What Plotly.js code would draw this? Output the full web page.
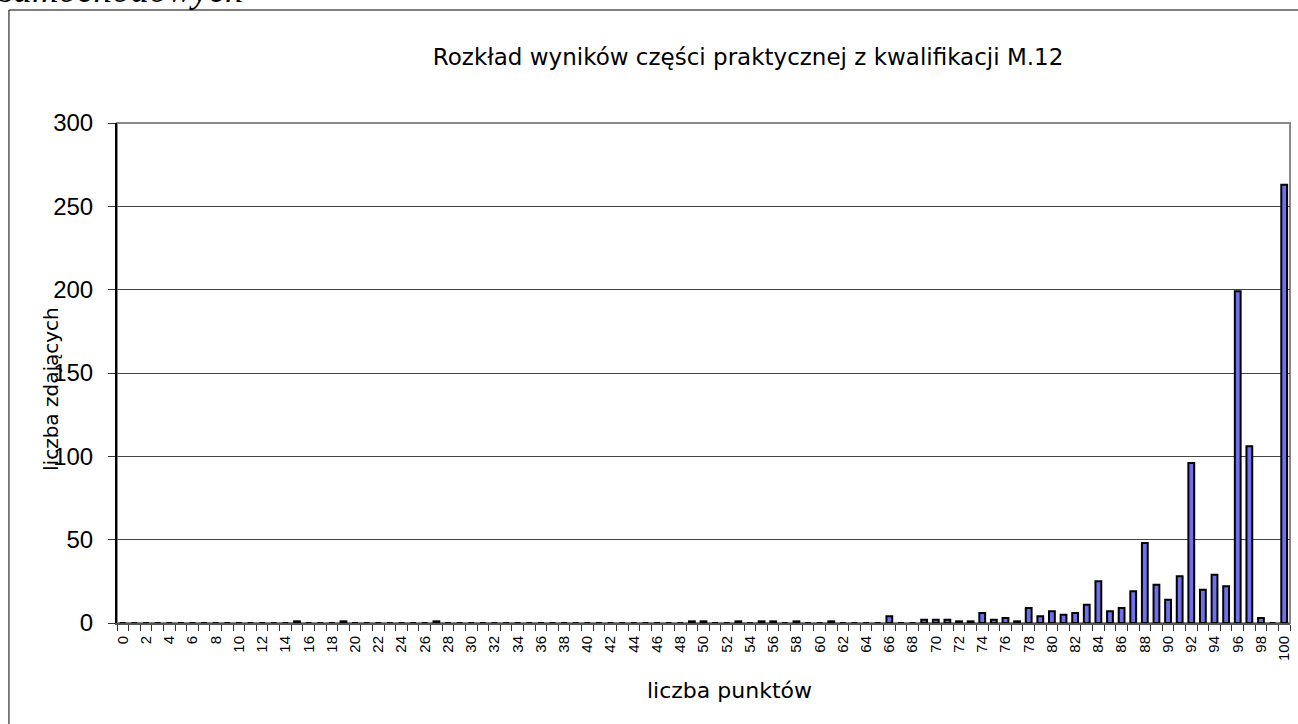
<!DOCTYPE html>
<html>
<head>
<meta charset="utf-8">
<script src="https://cdn.plot.ly/plotly-3.0.1.min.js"></script>
<style>
  body { margin: 0; background: #fff; }
  #wykres { width: 1298px; height: 724px; }
</style>
</head>
<body>
<div id="wykres"></div>
<script>
// liczba punktow (0-100)
var punkty = [
  0, 1, 2, 3, 4, 5, 6, 7, 8, 9,
  10, 11, 12, 13, 14, 15, 16, 17, 18, 19,
  20, 21, 22, 23, 24, 25, 26, 27, 28, 29,
  30, 31, 32, 33, 34, 35, 36, 37, 38, 39,
  40, 41, 42, 43, 44, 45, 46, 47, 48, 49,
  50, 51, 52, 53, 54, 55, 56, 57, 58, 59,
  60, 61, 62, 63, 64, 65, 66, 67, 68, 69,
  70, 71, 72, 73, 74, 75, 76, 77, 78, 79,
  80, 81, 82, 83, 84, 85, 86, 87, 88, 89,
  90, 91, 92, 93, 94, 95, 96, 97, 98, 99,
  100
];

// liczba zdajacych
var zdajacy = [
  0, 0, 0, 0, 0, 0, 0, 0, 0, 0,
  0, 0, 0, 0, 0, 1, 0, 0, 0, 1,
  0, 0, 0, 0, 0, 0, 0, 1, 0, 0,
  0, 0, 0, 0, 0, 0, 0, 0, 0, 0,
  0, 0, 0, 0, 0, 0, 0, 0, 0, 1,
  1, 0, 0, 1, 0, 1, 1, 0, 1, 0,
  0, 1, 0, 0, 0, 0, 4, 0, 0, 2,
  2, 2, 1, 1, 6, 2, 3, 1, 9, 4,
  7, 5, 6, 11, 25, 7, 9, 19, 48, 23,
  14, 28, 96, 20, 29, 22, 199, 106, 3, 0,
  263
];

var etykietyX = [
  0, 2, 4, 6, 8, 10, 12, 14, 16, 18,
  20, 22, 24, 26, 28, 30, 32, 34, 36, 38,
  40, 42, 44, 46, 48, 50, 52, 54, 56, 58,
  60, 62, 64, 66, 68, 70, 72, 74, 76, 78,
  80, 82, 84, 86, 88, 90, 92, 94, 96, 98,
  100
];

var etykietyY = [0, 50, 100, 150, 200, 250, 300];

var slupki = {
  x: punkty,
  y: zdajacy,
  type: 'bar',
  marker: {
    color: '#7070ee',
    line: { color: '#000000', width: 2 }
  },
  hoverinfo: 'x+y'
};

var czcionka = 'Liberation Sans, Arial, sans-serif';
var szeroka = 'DejaVu Sans, Verdana, sans-serif';

var layout = {
  width: 1298,
  height: 724,
  margin: { l: 117, r: 8, t: 123, b: 101 },
  paper_bgcolor: '#ffffff',
  plot_bgcolor: '#ffffff',
  showlegend: false,
  bargap: 0.5,
  font: { family: czcionka, color: '#000000' },
  title: {
    text: 'Rozkład wyników części praktycznej z kwalifikacji M.12',
    font: { family: szeroka, size: 23, color: '#000000' },
    x: 0.538, xref: 'paper', xanchor: 'center',
    y: 0.921, yref: 'container', yanchor: 'middle'
  },
  xaxis: {
    range: [-0.5, 100.5],
    tickmode: 'array',
    tickvals: etykietyX,
    ticktext: etykietyX.map(String),
    tickangle: -90,
    tickfont: { family: czcionka, size: 15, color: '#000000' },
    ticklabelstandoff: 5,
    ticks: '',
    showgrid: false,
    zeroline: false,
    showline: true,
    linecolor: '#555555',
    linewidth: 2,
    minor: {
      tick0: 0.5,
      dtick: 1,
      ticks: 'outside',
      ticklen: 6,
      tickwidth: 1,
      tickcolor: '#333333',
      showgrid: false
    }
  },
  yaxis: {
    range: [0, 300],
    tickmode: 'array',
    tickvals: etykietyY,
    ticks: 'outside',
    ticklen: 7,
    tickwidth: 1,
    tickcolor: '#333333',
    tickfont: { family: czcionka, size: 24, color: '#000000' },
    ticklabelstandoff: 10,
    showgrid: true,
    gridcolor: '#444444',
    gridwidth: 1,
    zeroline: false,
    showline: true,
    linecolor: '#000000',
    linewidth: 2
  },
  shapes: [
    // ramka obszaru wykresu
    { type: 'rect', xref: 'paper', yref: 'paper', x0: 0, x1: 1, y0: 0, y1: 1,
      line: { color: '#888888', width: 2 }, layer: 'below' },
    // ramka calego obrazka
    { type: 'line', xref: 'paper', yref: 'paper', x0: -0.0921, x1: -0.0921, y0: -0.21, y1: 1.226,
      line: { color: '#000000', width: 1 } },
    { type: 'line', xref: 'paper', yref: 'paper', x0: -0.0921, x1: 1.01, y0: 1.226, y1: 1.226,
      line: { color: '#000000', width: 1 } }
  ],
  annotations: [
    { text: 'liczba punktów', xref: 'paper', yref: 'paper', x: 0.522, y: -0.134,
      xanchor: 'center', yanchor: 'middle', showarrow: false,
      font: { family: szeroka, size: 22, color: '#000000' } },
    { text: 'liczba zdających', xref: 'paper', yref: 'paper', x: -0.0563, y: 0.468,
      xanchor: 'center', yanchor: 'middle', textangle: -90, showarrow: false,
      font: { family: szeroka, size: 20, color: '#000000' } },
    { text: 'samochodowych', xref: 'paper', yref: 'paper', x: -0.102, y: 1.221,
      xanchor: 'left', yanchor: 'bottom', showarrow: false,
      font: { family: 'Liberation Serif, Times New Roman, serif', size: 37, color: '#000000', style: 'italic' } }
  ]
};

Plotly.newPlot('wykres', [slupki], layout, { displayModeBar: false, staticPlot: true });
</script>
</body>
</html>
